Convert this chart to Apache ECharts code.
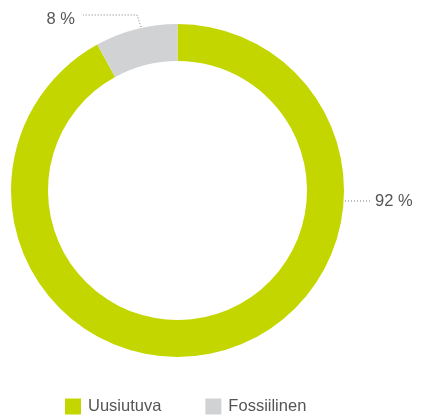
<!DOCTYPE html>
<html>
<head>
<meta charset="utf-8">
<style>
  html, body { margin: 0; padding: 0; background: #fff; }
  #container { width: 421px; height: 418px; }
</style>
<script src="https://cdn.jsdelivr.net/npm/echarts@6/dist/echarts.min.js"></script>
</head>
<body>
<div id="container"></div>
<script>
var categories = ['Uusiutuva', 'Fossiilinen'];
var values = [92, 8];
var colors = ['#c3d600', '#d1d2d4'];

var dom = document.getElementById('container');
var myChart = echarts.init(dom, null, { renderer: 'canvas' });

var data = [];
for (let i = 0; i < categories.length; i++) {
    data.push({ name: categories[i], value: values[i], itemStyle: { color: colors[i] } });
}

// where each label sits, and its leader line
var labelPos = [
    { x: 375, y: 201, align: 'left', pts: [[345, 201], [370, 201]] },
    { x: 75, y: 19, align: 'right', pts: [[141, 27], [137, 15], [83, 15]] }
];

var option = {
    animation: false,
    legend: {
        left: 60,
        top: 393,
        itemWidth: 16,
        itemHeight: 16,
        itemGap: 44,
        icon: 'rect',
        textStyle: { fontFamily: 'Liberation Sans', fontSize: 16.5, color: '#555', padding: [0, 0, 0, 2] },
        data: categories
    },
    series: [
        {
            type: 'pie',
            center: [177.5, 190.5],
            radius: [129.5, 166.5],
            startAngle: 90,
            clockwise: true,
            silent: true,
            label: {
                show: true,
                formatter: (p) => p.value + ' %',
                fontFamily: 'Liberation Sans',
                fontSize: 16.5,
                color: '#555'
            },
            labelLine: {
                show: true,
                lineStyle: { color: '#777', width: 1, type: [1, 2] }
            },
            labelLayout: (params) => {
                const l = labelPos[params.dataIndex];
                return {
                    x: l.x,
                    y: l.y,
                    align: l.align,
                    verticalAlign: 'middle',
                    labelLinePoints: l.pts
                };
            },
            data: data
        }
    ]
};

myChart.setOption(option);
</script>
</body>
</html>
